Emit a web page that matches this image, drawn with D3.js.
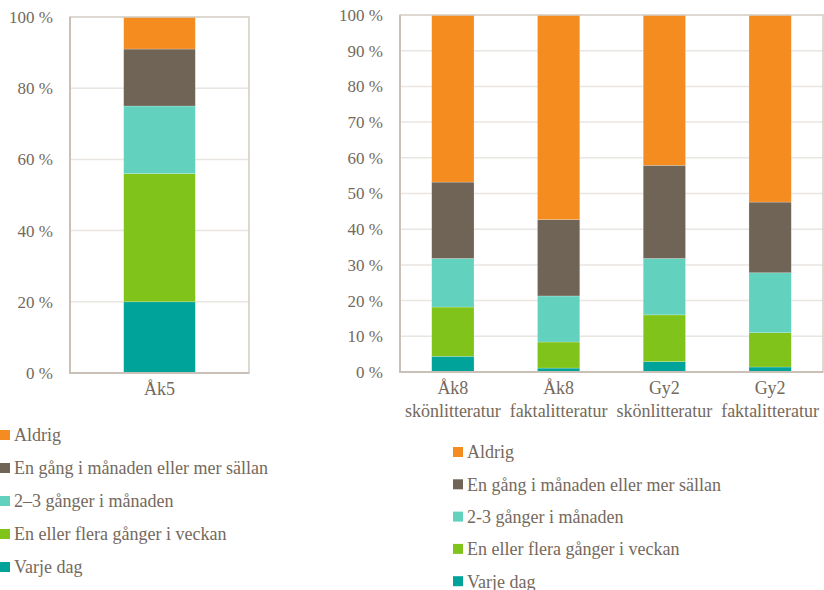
<!DOCTYPE html>
<html>
<head>
<meta charset="utf-8">
<script src="https://cdn.jsdelivr.net/npm/d3@7"></script>
<style>
  body { margin: 0; background: #fff; }
  svg text { font-family: "Liberation Serif", "Times New Roman", serif; }
</style>
</head>
<body>
<svg id="chart" width="824" height="590"></svg>
<script>
// series names, bottom to top in the stack
var series = ["Varje dag", "En eller flera gånger i veckan", "2–3 gånger i månaden", "En gång i månaden eller mer sällan", "Aldrig"];
var colors = ["#00a39a", "#80c31a", "#62d2be", "#6f6456", "#f58c20"];

// left chart: Åk5
var leftCats = ["Åk5"];
var leftValues = [[20], [36], [19], [16], [9]];
var leftTicks = [0, 20, 40, 60, 80, 100];
var leftLegend = ["Aldrig", "En gång i månaden eller mer sällan", "2–3 gånger i månaden", "En eller flera gånger i veckan", "Varje dag"];

// right chart: Åk8 and Gy2
var rightCats = ["Åk8|skönlitteratur", "Åk8|faktalitteratur", "Gy2|skönlitteratur", "Gy2|faktalitteratur"];
var rightValues = [
  [4.4, 1.1, 2.9, 1.4],
  [13.8, 7.3, 13.1, 9.6],
  [13.6, 12.9, 15.8, 16.8],
  [21.4, 21.4, 26.1, 19.8],
  [46.8, 57.3, 42.1, 52.4]
];
var rightTicks = [0, 10, 20, 30, 40, 50, 60, 70, 80, 90, 100];
var rightLegend = ["Aldrig", "En gång i månaden eller mer sällan", "2-3 gånger i månaden", "En eller flera gånger i veckan", "Varje dag"];

var svg = d3.select("#chart");

var textColor = "#74695c";

//draws one stacked percent chart inside the box x0..x1, y0..y1
function drawChart(cats, values, ticks, x0, x1, y0, y1) {
  var g = svg.append("g");

  var x = d3.scaleBand().domain(cats).range([x0, x1]).paddingInner(0.6).paddingOuter(0.3);
  var y = d3.scaleLinear().domain([0, 100]).range([y1, y0]);

  //gridlines
  g.selectAll(".grid").data(ticks.filter(function(t) { return t > 0 && t < 100; }))
    .enter().append("line")
    .attr("x1", x0).attr("x2", x1)
    .attr("y1", function(d) { return y(d); })
    .attr("y2", function(d) { return y(d); })
    .attr("stroke", "#e9e5e1").attr("stroke-width", 1.5);

  //stack the rows into one object per category
  var rows = cats.map(function(c, i) {
    var r = { cat: c };
    series.forEach(function(s, j) { r[s] = values[j][i]; });
    return r;
  });
  var stacked = d3.stack().keys(series)(rows);

  g.selectAll(".layer").data(stacked).enter().append("g")
    .attr("fill", function(d, i) { return colors[i]; })
    .selectAll("rect").data(function(d) { return d; })
    .enter().append("rect")
    .attr("x", function(d) { return x(d.data.cat); })
    .attr("width", x.bandwidth())
    .attr("y", function(d) { return y(d[1]); })
    .attr("height", function(d) { return y(d[0]) - y(d[1]); })
    .attr("stroke", "#ffffff").attr("stroke-opacity", 0.35).attr("stroke-width", 0.6);

  //plot border
  g.append("rect")
    .attr("x", x0).attr("y", y0)
    .attr("width", x1 - x0).attr("height", y1 - y0)
    .attr("fill", "none").attr("stroke", "#d3cbc3").attr("stroke-width", 1.5);
  g.append("path")
    .attr("d", "M" + x0 + "," + y0 + "V" + y1 + "H" + x1)
    .attr("fill", "none").attr("stroke", "#c9c0b7").attr("stroke-width", 2);

  //y labels
  g.selectAll(".ylab").data(ticks).enter().append("text")
    .attr("x", x0 - 17)
    .attr("y", function(d) { return y(d); })
    .attr("dy", "0.35em")
    .attr("text-anchor", "end")
    .attr("font-size", 17)
    .attr("fill", textColor)
    .text(function(d) { return d + " %"; });

  //x labels, split into lines at |
  var xl = g.selectAll(".xlab").data(cats).enter().append("text")
    .attr("text-anchor", "middle")
    .attr("font-size", 18)
    .attr("fill", textColor);
  xl.each(function(d) {
    var t = d3.select(this);
    d.split("|").forEach(function(line, k) {
      t.append("tspan")
        .attr("x", x(d) + x.bandwidth() / 2)
        .attr("y", y1 + 22 + k * 23)
        .text(line);
    });
  });
}

function drawLegend(names, lx, ly, step) {
  var items = svg.append("g").selectAll("g").data(names).enter().append("g")
    .attr("transform", function(d, i) { return "translate(" + lx + "," + (ly + i * step) + ")"; });
  items.append("rect")
    .attr("x", 0).attr("y", -5).attr("width", 10).attr("height", 10)
    .attr("fill", function(d, i) { return colors[colors.length - 1 - i]; });
  items.append("text")
    .attr("x", 14).attr("dy", "0.35em")
    .attr("font-size", 18)
    .attr("fill", textColor)
    .text(function(d) { return d; });
}

drawChart(leftCats, leftValues, leftTicks, 70, 249, 17, 373);
drawChart(rightCats, rightValues, rightTicks, 400, 823, 15, 372);
drawLegend(leftLegend, 0, 435, 33);
drawLegend(rightLegend, 453, 452, 32.3);
</script>
</body>
</html>
